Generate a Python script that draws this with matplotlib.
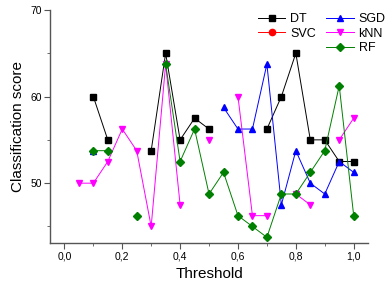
import numpy as np
import matplotlib
matplotlib.use("Agg")
import matplotlib.pyplot as plt
from matplotlib.ticker import MultipleLocator, FuncFormatter

plt.rcParams['font.family'] = ['Liberation Sans', 'DejaVu Sans']

nan = np.nan
threshold = np.round(np.arange(0.05, 1.0001, 0.05), 2)

# scores per threshold (0.05 ... 1.0), nan = no value
dt = [nan, 60, 55, nan, nan, 53.75, 65, 55, 57.5, 56.25,
      nan, nan, nan, 56.25, 60, 65, 55, 55, 52.5, 52.5]
svc = [nan] * 20
sgd = [nan, 53.75, nan, nan, nan, nan, nan, nan, nan, nan,
       58.75, 56.25, 56.25, 63.75, 47.5, 53.75, 50, 48.75, 52.5, 51.25]
knn = [50, 50, 52.5, 56.25, 53.75, 45, 63.75, 47.5, nan, 55,
       nan, 60, 46.25, 46.25, nan, 48.75, 47.5, nan, 55, 57.5]
rf = [nan, 53.75, 53.75, nan, 46.25, nan, 63.75, 52.5, 56.25, 48.75,
      51.25, 46.25, 45, 43.75, 48.75, 48.75, 51.25, 53.75, 61.25, 46.25]

fig = plt.figure(figsize=(3.9, 2.92), dpi=100)
ax = fig.add_axes([0.128, 0.168, 0.816, 0.798])

ax.plot(threshold, dt, 's-', color='black', lw=0.7, ms=4.5, label='DT')
ax.plot(threshold, svc, 'o-', color='red', lw=0.7, ms=4.5, label='SVC')
ax.plot([], [], ' ', label=' ')  # empty slot so SGD starts column 2
ax.plot(threshold, sgd, '^-', color='blue', lw=0.7, ms=5, label='SGD')
ax.plot(threshold, knn, 'v-', color='magenta', lw=0.7, ms=5, label='kNN')
ax.plot(threshold, rf, 'D-', color='#008000', lw=0.7, ms=4, label='RF')

ax.set_xlim(-0.05, 1.05)
ax.set_ylim(43.1, 70)
ax.xaxis.set_major_locator(MultipleLocator(0.2))
ax.xaxis.set_minor_locator(MultipleLocator(0.1))
ax.yaxis.set_major_locator(MultipleLocator(10))
ax.yaxis.set_minor_locator(MultipleLocator(5))
ax.xaxis.set_major_formatter(FuncFormatter(lambda v, p: f"{v:.1f}".replace('.', ',')))

for s in ['top', 'right']:
    ax.spines[s].set_visible(False)
for s in ['left', 'bottom']:
    ax.spines[s].set_color('#555555')
    ax.spines[s].set_linewidth(1.0)
ax.tick_params(which='both', direction='out', color='#555555', labelsize=7.5, pad=2)
ax.tick_params(which='major', length=4)
ax.tick_params(which='minor', length=2.5)

ax.set_xlabel('Threshold', fontsize=11)
ax.set_ylabel('Classification score', fontsize=11)

ax.legend(ncol=2, frameon=False, fontsize=9, loc='upper right',
          bbox_to_anchor=(1.09, 1.035), handlelength=2.2, handletextpad=0.4,
          columnspacing=0.8, labelspacing=0.2)

fig.savefig('out.png', dpi=100)
